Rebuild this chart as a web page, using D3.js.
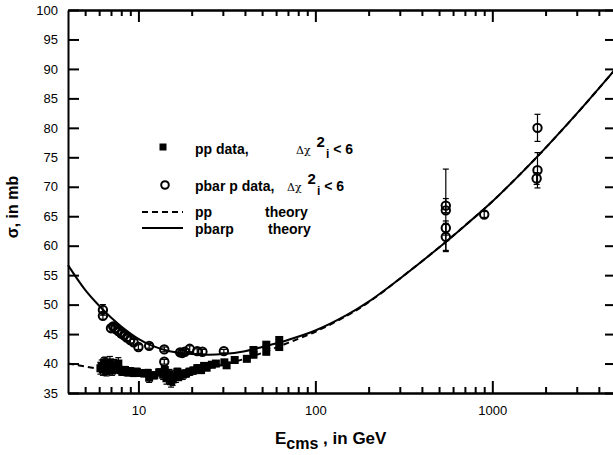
<!DOCTYPE html>
<html>
<head>
<meta charset="utf-8">
<script src="https://cdn.jsdelivr.net/npm/d3@7"></script>
<style>
  body { margin: 0; background: #fff; }
  svg { font-family: "Liberation Sans", Arial, sans-serif; }
</style>
</head>
<body>
<svg id="chart" width="613" height="455"></svg>
<script>
// pp data (filled squares): energy in GeV, sigma in mb, error
const ppE   = [6.1, 6.2, 6.3, 6.4, 6.5, 6.6, 6.8, 6.9, 7.1, 7.3, 7.5, 7.7, 7.9, 8.1, 8.4, 8.7, 9.0, 9.4, 9.8,
               10.3, 10.8, 11.3, 11.5, 12.3, 13.1, 13.8, 14.1, 14.4, 15.0, 15.3, 15.6, 16.3, 16.6, 17.0, 17.8, 18.6,
               19.4, 20.4, 21.5, 22.6, 23.5, 24.3, 26.0, 27.4, 30.6, 31.5, 35.0, 41.0,
               44.7, 44.7, 52.8, 52.8, 62.5, 62.5];
const ppSig = [39.2, 39.6, 39.0, 40.2, 40.1, 38.7, 39.5, 40.2, 38.8, 39.7, 39.2, 40.0, 38.9, 38.6, 38.9, 38.5, 38.7, 38.4, 38.6,
               38.4, 38.3, 38.4, 37.6, 38.0, 38.5, 38.1, 38.9, 37.5, 38.2, 37.0, 37.3, 37.8, 38.6, 37.9, 38.1, 38.3,
               38.6, 38.8, 39.2, 38.9, 39.6, 39.3, 39.8, 40.0, 40.2, 39.7, 40.6, 40.8,
               41.5, 42.3, 42.0, 43.2, 42.8, 44.0];
const ppErr = [1.0, 1.0, 1.0, 0.8, 1.0, 0.8, 1.0, 1.0, 0.8, 1.0, 0.8, 1.0, 0.6, 0.6, 0.6, 0.6, 0.6, 0.6, 0.6,
               0.5, 0.5, 0.6, 0.8, 0.6, 0.6, 0.8, 0.6, 1.0, 0.8, 1.0, 1.0, 1.0, 0.6, 0.8, 0.8, 0.6,
               0.6, 0.6, 0.6, 0.6, 0.5, 0.5, 0.5, 0.5, 0.4, 0.4, 0.4, 0.4,
               0.5, 0.5, 0.5, 0.5, 0.5, 0.5];

// pbar p data (open circles)
const pbE   = [6.3, 6.3, 7.0, 7.2, 7.4, 7.7, 8.0, 8.3, 8.6, 9.0, 9.4, 10.0, 11.5, 14.0, 14.0,
               17.2, 17.7, 18.3, 19.5, 21.5, 23.0, 30.4, 546, 546, 546, 546, 900, 1800, 1800, 1780];
const pbSig = [49.1, 48.1, 46.0, 46.3, 45.9, 45.5, 45.1, 44.8, 44.4, 44.0, 43.6, 42.8, 43.0, 42.4, 40.3,
               41.9, 41.8, 42.0, 42.5, 42.1, 42.0, 42.1, 66.8, 66.0, 63.0, 61.5, 65.3, 80.0, 72.8, 71.4];
const pbErr = [0.9, 0.6, 0.5, 0.5, 0.5, 0.5, 0.5, 0.5, 0.5, 0.5, 0.5, 0.4, 0.4, 0.4, 0.4,
               0.4, 0.4, 0.4, 0.5, 0.4, 0.4, 0.3, 1.2, 7.0, 1.2, 2.3, 0.5, 2.3, 3.0, 1.0];

// theory curves
const thE     = [4, 5, 6, 7, 8, 10, 12, 15, 20, 25, 30, 40, 50, 70, 100, 150, 200, 300, 500,
                 700, 1000, 1500, 2000, 3000, 4000, 5000];
const pbarpTh = [56.7, 52.5, 49.8, 47.8, 46.3, 44.2, 43.0, 42.1, 41.6, 41.5, 41.6, 42.1, 42.8, 44.0,
                 45.6, 48.2, 50.5, 54.4, 59.7, 63.4, 67.5, 72.7, 76.6, 82.4, 86.7, 90.1];
const ppTh    = [40.0, 39.5, 39.1, 38.8, 38.6, 38.4, 38.4, 38.5, 38.8, 39.3, 39.8, 40.8, 41.8, 43.5,
                 45.4, 48.1, 50.4, 54.4, 59.7, 63.4, 67.5, 72.7, 76.6, 82.4, 86.7, 90.1];

const xMajor = [10, 100, 1000];
const xMinor = [5, 6, 7, 8, 9, 20, 30, 40, 50, 60, 70, 80, 90,
                200, 300, 400, 500, 600, 700, 800, 900, 2000, 3000, 4000];
const yTicks = d3.range(35, 101, 5);

const svg = d3.select("#chart");
const x = d3.scaleLog().domain([4, 5000]).range([68, 616]);
const y = d3.scaleLinear().domain([35, 100]).range([393, 10]);

function styleAxis(g) {
  g.selectAll("path, line").attr("stroke", "#000").attr("stroke-width", 2);
  g.selectAll("text").attr("fill", "#000").attr("font-size", 13);
}

// frame + ticks (all pointing inward)
svg.append("g").attr("transform", "translate(0,393)")
  .call(d3.axisBottom(x).tickValues(xMajor).tickSize(-12).tickSizeOuter(0)
    .tickPadding(13).tickFormat(d3.format("d")))
  .call(styleAxis);
svg.append("g").attr("transform", "translate(0,393)")
  .call(d3.axisBottom(x).tickValues(xMinor).tickSize(-6).tickSizeOuter(0).tickFormat(""))
  .call(styleAxis);
svg.append("g").attr("transform", "translate(0,10)")
  .call(d3.axisTop(x).tickValues(xMajor).tickSize(-12).tickSizeOuter(0).tickFormat(""))
  .call(styleAxis);
svg.append("g").attr("transform", "translate(0,10)")
  .call(d3.axisTop(x).tickValues(xMinor).tickSize(-6).tickSizeOuter(0).tickFormat(""))
  .call(styleAxis);
svg.append("g").attr("transform", "translate(68,0)")
  .call(d3.axisLeft(y).tickValues(yTicks).tickSize(-11).tickSizeOuter(0).tickPadding(10))
  .call(styleAxis);
svg.append("g").attr("transform", "translate(616,0)")
  .call(d3.axisRight(y).tickValues(yTicks).tickSize(-11).tickSizeOuter(0).tickFormat(""))
  .call(styleAxis);

// theory curves
const line = d3.line().x(d => x(d[0])).y(d => y(d[1])).curve(d3.curveCatmullRom.alpha(0.5));
svg.append("path").datum(d3.zip(thE, ppTh)).attr("d", line)
  .attr("fill", "none").attr("stroke", "#000").attr("stroke-width", 2).attr("stroke-dasharray", "6,4");
svg.append("path").datum(d3.zip(thE, pbarpTh)).attr("d", line)
  .attr("fill", "none").attr("stroke", "#000").attr("stroke-width", 2);

// error bars
function errorBars(E, S, Err) {
  const g = svg.append("g").attr("stroke", "#000").attr("stroke-width", 1.2);
  const d = d3.zip(E, S, Err);
  g.selectAll("line.v").data(d).join("line")
    .attr("x1", d => x(d[0])).attr("x2", d => x(d[0]))
    .attr("y1", d => y(d[1] - d[2])).attr("y2", d => y(d[1] + d[2]));
  g.selectAll("line.top").data(d).join("line").attr("class", "top")
    .attr("x1", d => x(d[0]) - 3).attr("x2", d => x(d[0]) + 3)
    .attr("y1", d => y(d[1] + d[2])).attr("y2", d => y(d[1] + d[2]));
  g.selectAll("line.bot").data(d).join("line").attr("class", "bot")
    .attr("x1", d => x(d[0]) - 3).attr("x2", d => x(d[0]) + 3)
    .attr("y1", d => y(d[1] - d[2])).attr("y2", d => y(d[1] - d[2]));
}
errorBars(ppE, ppSig, ppErr);
errorBars(pbE, pbSig, pbErr);

// markers
svg.append("g").selectAll("rect").data(d3.zip(ppE, ppSig)).join("rect")
  .attr("x", d => x(d[0]) - 4).attr("y", d => y(d[1]) - 4)
  .attr("width", 8).attr("height", 8).attr("fill", "#000");
svg.append("g").selectAll("circle").data(d3.zip(pbE, pbSig)).join("circle")
  .attr("cx", d => x(d[0])).attr("cy", d => y(d[1])).attr("r", 4.2)
  .attr("fill", "none").attr("stroke", "#000").attr("stroke-width", 2);

// legend
const leg = svg.append("g").attr("font-weight", "bold").attr("font-size", 14).attr("fill", "#000");
leg.append("rect").attr("x", 159.5).attr("y", 143.5).attr("width", 7).attr("height", 7);
leg.append("circle").attr("cx", 165).attr("cy", 185).attr("r", 3.8)
  .attr("fill", "none").attr("stroke", "#000").attr("stroke-width", 2);
leg.append("line").attr("x1", 142).attr("x2", 183).attr("y1", 212).attr("y2", 212)
  .attr("stroke", "#000").attr("stroke-width", 2).attr("stroke-dasharray", "6,4");
leg.append("line").attr("x1", 142).attr("x2", 183).attr("y1", 228).attr("y2", 228)
  .attr("stroke", "#000").attr("stroke-width", 2);

function chiLabel(x0, base) {
  const t = leg.append("text").attr("x", x0).attr("y", base);
  t.append("tspan").attr("font-weight", "normal").attr("font-size", 11)
    .attr("font-family", "DejaVu Serif, serif").text("\u0394\u03c7");
  t.append("tspan").attr("dx", 6).attr("dy", -7).attr("font-size", 15).text("2");
  t.append("tspan").attr("dx", 1).attr("dy", 11).attr("font-size", 12).text("i");
  t.append("tspan").attr("dx", 4).attr("dy", -4).text("< 6");
}
leg.append("text").attr("x", 195).attr("y", 154).text("pp data,");
chiLabel(296, 154);
leg.append("text").attr("x", 195).attr("y", 191).text("pbar p data,");
chiLabel(287, 191);
leg.append("text").attr("x", 195).attr("y", 217).text("pp");
leg.append("text").attr("x", 265).attr("y", 217).text("theory");
leg.append("text").attr("x", 195).attr("y", 234).text("pbarp");
leg.append("text").attr("x", 268).attr("y", 234).text("theory");

// axis titles
svg.append("text").attr("transform", "translate(18,207) rotate(-90)")
  .attr("text-anchor", "middle").attr("font-weight", "bold").attr("font-size", 16)
  .text("\u03c3, in mb");
const xt = svg.append("text").attr("x", 275).attr("y", 444)
  .attr("font-weight", "bold").attr("font-size", 17);
xt.append("tspan").text("E");
xt.append("tspan").attr("dy", 5).attr("font-size", 16).text("cms");
xt.append("tspan").attr("dy", -5).text(" , in GeV");
</script>
</body>
</html>
